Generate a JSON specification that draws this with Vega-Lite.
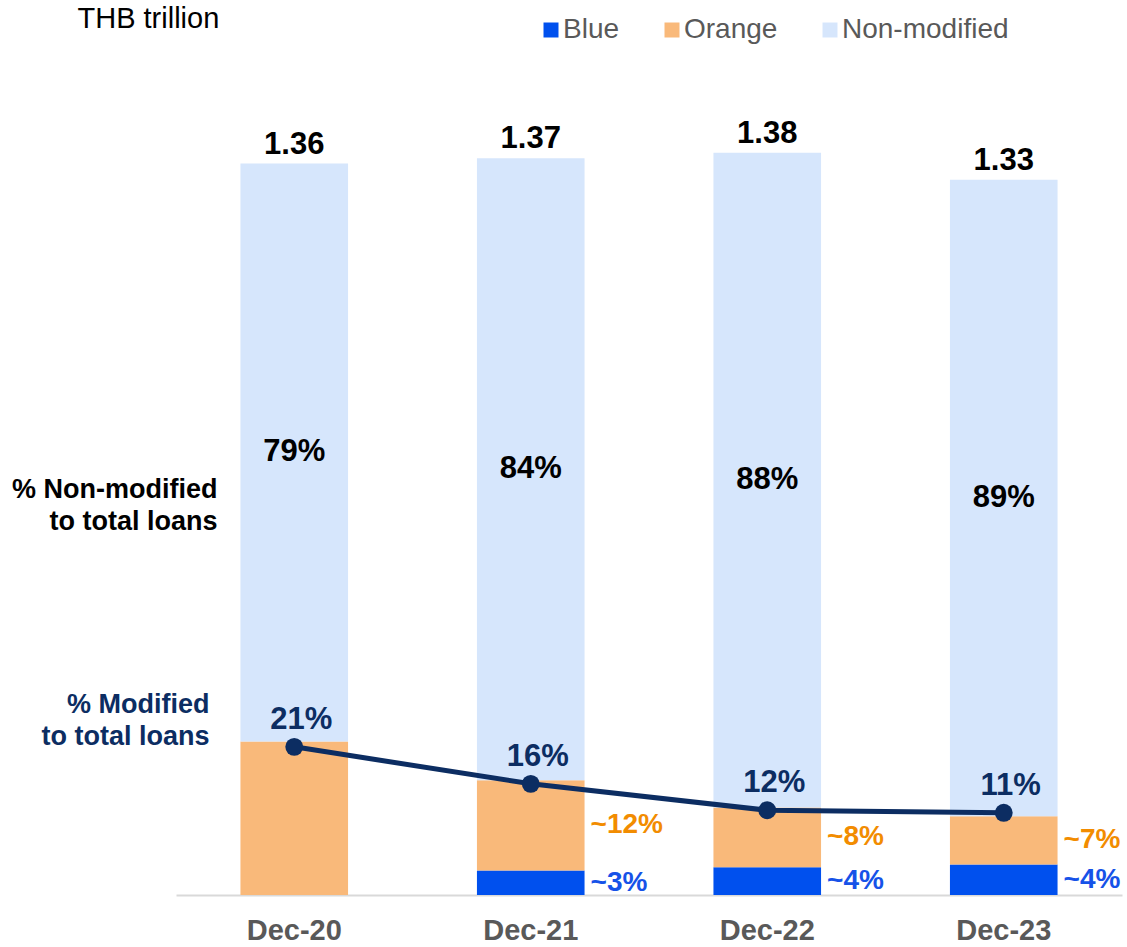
{
  "$schema": "https://vega.github.io/schema/vega-lite/v6.json",
  "width": 946,
  "height": 895,
  "autosize": {"type": "none"},
  "padding": {"left": 176, "right": 5, "top": 0, "bottom": 52},
  "background": "white",
  "config": {
    "font": "Liberation Sans",
    "view": {"stroke": null}
  },
  "datasets": {
    "segments": [
      {"date": "Dec-20", "segment": "Orange", "value": 0.2856, "label": ""},
      {"date": "Dec-20", "segment": "Non-modified", "value": 1.0744, "label": "79%"},
      {"date": "Dec-21", "segment": "Blue", "value": 0.0455, "label": "~3%"},
      {"date": "Dec-21", "segment": "Orange", "value": 0.1679, "label": "~12%"},
      {"date": "Dec-21", "segment": "Non-modified", "value": 1.1566, "label": "84%"},
      {"date": "Dec-22", "segment": "Blue", "value": 0.0517, "label": "~4%"},
      {"date": "Dec-22", "segment": "Orange", "value": 0.1109, "label": "~8%"},
      {"date": "Dec-22", "segment": "Non-modified", "value": 1.2174, "label": "88%"},
      {"date": "Dec-23", "segment": "Blue", "value": 0.0567, "label": "~4%"},
      {"date": "Dec-23", "segment": "Orange", "value": 0.0898, "label": "~7%"},
      {"date": "Dec-23", "segment": "Non-modified", "value": 1.1835, "label": "89%"}
    ],
    "modified": [
      {"date": "Dec-20", "value": 0.2755, "label": "21%"},
      {"date": "Dec-21", "value": 0.2067, "label": "16%"},
      {"date": "Dec-22", "value": 0.1576, "label": "12%"},
      {"date": "Dec-23", "value": 0.1528, "label": "11%"}
    ],
    "totals": [
      {"date": "Dec-20", "total": 1.36, "label": "1.36"},
      {"date": "Dec-21", "total": 1.37, "label": "1.37"},
      {"date": "Dec-22", "total": 1.38, "label": "1.38"},
      {"date": "Dec-23", "total": 1.33, "label": "1.33"}
    ]
  },
  "encoding": {
    "x": {
      "field": "date",
      "type": "nominal",
      "sort": ["Dec-20", "Dec-21", "Dec-22", "Dec-23"],
      "scale": {"paddingInner": 0.545, "paddingOuter": 0.2725},
      "axis": {
        "title": null,
        "labelAngle": 0,
        "ticks": false,
        "tickSize": 0,
        "domainColor": "#d9d9d9",
        "domainWidth": 2,
        "labelFontSize": 29,
        "labelFontWeight": "bold",
        "labelColor": "#595959",
        "labelBaseline": "middle",
        "labelPadding": 35
      }
    }
  },
  "layer": [
    {
      "data": {"name": "segments"},
      "transform": [
        {"calculate": "indexof(['Blue','Orange','Non-modified'], datum.segment)", "as": "ord"},
        {"stack": "value", "groupby": ["date"], "sort": [{"field": "ord", "order": "ascending"}], "as": ["v0", "v1"]},
        {"calculate": "(datum.v0 + datum.v1) / 2", "as": "mid"}
      ],
      "layer": [
        {
          "mark": {"type": "bar"},
          "encoding": {
            "y": {
              "field": "v0",
              "type": "quantitative",
              "scale": {"domain": [0, 1.664], "nice": false},
              "axis": {
                "values": [0.3542, 0.7548],
                "labelExpr": "datum.value > 0.5 ? ['% Non-modified', 'to total loans'] : ['% Modified', 'to total loans']",
                "domain": false,
                "ticks": false,
                "grid": false,
                "labelAlign": "right",
                "labelBaseline": "middle",
                "labelFontSize": 27,
                "labelFontWeight": "bold",
                "labelLineHeight": 32.5,
                "labelLimit": 500,
                "labelOverlap": false,
                "labelPadding": {"condition": {"test": "datum.value > 0.5", "value": -41}, "value": -33},
                "labelColor": {"condition": {"test": "datum.value > 0.5", "value": "#000000"}, "value": "#0c2d62"},
                "title": "THB trillion",
                "titleAngle": 0,
                "titleAlign": "left",
                "titleBaseline": "alphabetic",
                "titleX": -99,
                "titleY": 27,
                "titleFontSize": 29,
                "titleFontWeight": "normal",
                "titleColor": "#000000"
              }
            },
            "y2": {"field": "v1"},
            "color": {
              "field": "segment",
              "type": "nominal",
              "scale": {
                "domain": ["Blue", "Orange", "Non-modified"],
                "range": ["#0050ee", "#f9b97a", "#d6e6fc"]
              },
              "legend": {
                "title": null,
                "orient": "none",
                "direction": "horizontal",
                "legendX": 361,
                "legendY": 16,
                "symbolType": "square",
                "symbolSize": 225,
                "symbolStrokeWidth": 0,
                "labelFontSize": 28,
                "labelLimit": 400,
                "labelColor": "#595959",
                "labelOffset": -2,
                "columnPadding": 38
              }
            }
          }
        },
        {
          "transform": [{"filter": "datum.segment === 'Non-modified'"}],
          "mark": {"type": "text", "fontSize": 31, "fontWeight": "bold", "color": "#000000", "baseline": "middle"},
          "encoding": {
            "y": {"field": "mid", "type": "quantitative"},
            "text": {"field": "label"}
          }
        },
        {
          "transform": [{"filter": "datum.segment !== 'Non-modified' && datum.label !== ''"}],
          "mark": {"type": "text", "fontSize": 28, "fontWeight": "bold", "align": "left", "baseline": "middle", "dx": 6},
          "encoding": {
            "x": {"field": "date", "type": "nominal", "sort": ["Dec-20", "Dec-21", "Dec-22", "Dec-23"], "bandPosition": 1},
            "y": {"field": "mid", "type": "quantitative"},
            "text": {"field": "label"},
            "color": {"condition": {"test": "datum.segment === 'Blue'", "value": "#1652e8"}, "value": "#f28c00"}
          }
        }
      ]
    },
    {
      "data": {"name": "modified"},
      "layer": [
        {
          "mark": {"type": "line", "color": "#0c2d62", "strokeWidth": 5},
          "encoding": {"y": {"field": "value", "type": "quantitative"}}
        },
        {
          "mark": {"type": "point", "filled": true, "opacity": 1, "color": "#0c2d62", "size": 320},
          "encoding": {"y": {"field": "value", "type": "quantitative"}}
        },
        {
          "mark": {"type": "text", "fontSize": 31, "fontWeight": "bold", "color": "#0c2d62", "baseline": "alphabetic", "dy": -18, "dx": 7},
          "encoding": {
            "y": {"field": "value", "type": "quantitative"},
            "text": {"field": "label"}
          }
        }
      ]
    },
    {
      "data": {"name": "totals"},
      "mark": {"type": "text", "fontSize": 31, "fontWeight": "bold", "color": "#000000", "baseline": "alphabetic", "dy": -10},
      "encoding": {
        "y": {"field": "total", "type": "quantitative"},
        "text": {"field": "label"}
      }
    }
  ]
}
